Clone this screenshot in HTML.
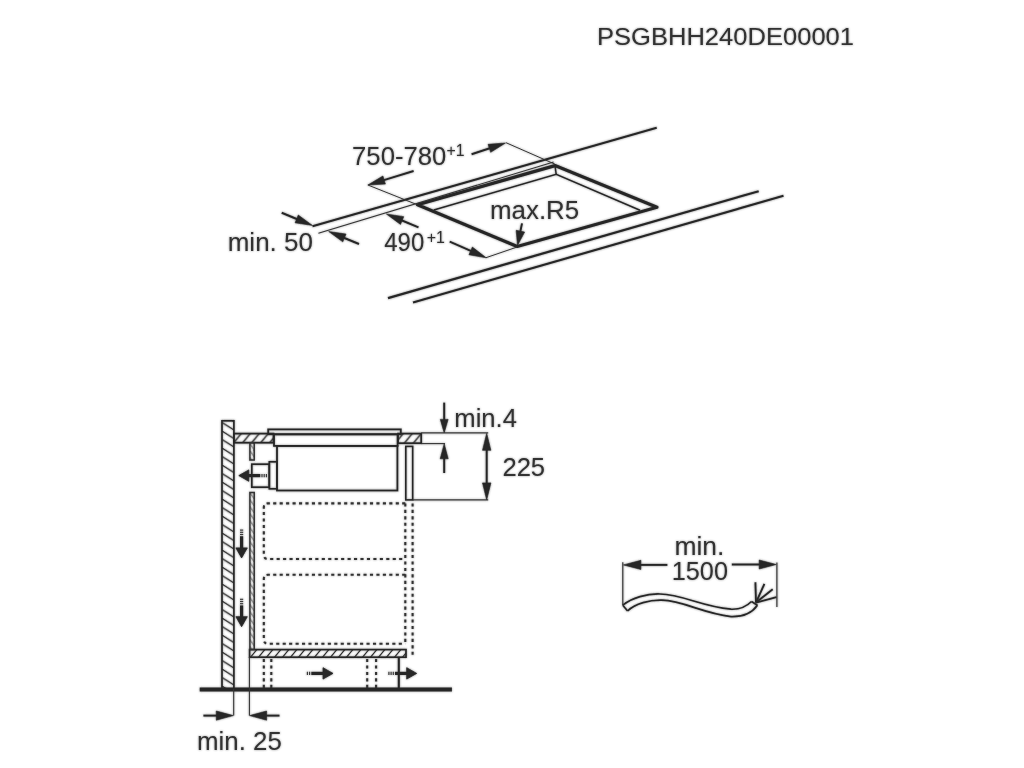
<!DOCTYPE html>
<html><head><meta charset="utf-8"><title>PSGBHH240DE00001</title>
<style>
html,body{margin:0;padding:0;background:#fff;}
body{width:1024px;height:768px;overflow:hidden;}
svg{display:block;}
svg text{font-family:"Liberation Sans",sans-serif;fill:#303030;}
</style></head><body>
<svg width="1024" height="768" viewBox="0 0 1024 768">
<defs><filter id="soft" x="0" y="0" width="1024" height="768" filterUnits="userSpaceOnUse"><feGaussianBlur in="SourceGraphic" stdDeviation="0.8" result="b"/><feComponentTransfer in="b" result="h"><feFuncA type="linear" slope="0.5" intercept="0"/></feComponentTransfer><feMerge><feMergeNode in="h"/><feMergeNode in="SourceGraphic"/></feMerge></filter></defs>
<rect width="1024" height="768" fill="#fff"/>
<g filter="url(#soft)">
<line x1="312.5" y1="226.3" x2="656.7" y2="127.8" stroke="#262626" stroke-width="2.2" />
<line x1="388" y1="298.1" x2="758.7" y2="191.2" stroke="#262626" stroke-width="2.2" />
<line x1="413" y1="302.5" x2="783.5" y2="195.7" stroke="#262626" stroke-width="2.2" />
<polygon points="417.5,204.8 555,165.6 657,207.3 517.2,246.5" fill="none" stroke="#262626" stroke-width="3.2" stroke-linejoin="round"/>
<polyline points="433.8,210 556.2,174.4 640,210.3" fill="none" stroke="#262626" stroke-width="1.5"/>
<line x1="555" y1="165.6" x2="556.2" y2="174.4" stroke="#262626" stroke-width="1.5" />
<line x1="471.6" y1="154.2" x2="491.26" y2="147.71" stroke="#262626" stroke-width="2.0" />
<polygon points="505.50,143.00 490.68,152.32 488.04,144.35" fill="#262626" stroke="#262626" stroke-width="0.6" stroke-linejoin="miter"/>
<line x1="413.6" y1="171.0" x2="382.24" y2="180.61" stroke="#262626" stroke-width="2.0" />
<polygon points="367.90,185.00 382.92,176.00 385.38,184.04" fill="#262626" stroke="#262626" stroke-width="0.6" stroke-linejoin="miter"/>
<line x1="418.5" y1="227.3" x2="400.26" y2="219.74" stroke="#262626" stroke-width="2.0" />
<polygon points="386.40,214.00 403.71,216.63 400.50,224.39" fill="#262626" stroke="#262626" stroke-width="0.6" stroke-linejoin="miter"/>
<line x1="449.7" y1="241.6" x2="472.49" y2="251.71" stroke="#262626" stroke-width="2.0" />
<polygon points="486.20,257.80 468.96,254.74 472.37,247.06" fill="#262626" stroke="#262626" stroke-width="0.6" stroke-linejoin="miter"/>
<line x1="281.7" y1="212.8" x2="298.52" y2="219.7" stroke="#262626" stroke-width="2.0" />
<polygon points="312.40,225.40 295.08,222.83 298.27,215.06" fill="#262626" stroke="#262626" stroke-width="0.6" stroke-linejoin="miter"/>
<line x1="359" y1="244" x2="342.57" y2="237.22" stroke="#262626" stroke-width="2.0" />
<polygon points="328.70,231.50 346.02,234.10 342.81,241.87" fill="#262626" stroke="#262626" stroke-width="0.6" stroke-linejoin="miter"/>
<line x1="522.0" y1="223.4" x2="520.0" y2="233.15" stroke="#262626" stroke-width="2.0" />
<polygon points="517.50,245.40 516.19,230.33 524.62,232.06" fill="#262626" stroke="#262626" stroke-width="0.6" stroke-linejoin="miter"/>
<text transform="translate(596.92 44.9) scale(1.0390 1)" font-size="24.6">PSGBHH240DE00001</text>
<text transform="translate(352.08 164.7) scale(1.0071 1)" font-size="25.5">750-780</text>
<text transform="translate(446.50 156.2) scale(0.9135 1)" font-size="17.3">+1</text>
<text transform="translate(227.68 251.1) scale(1.0205 1)" font-size="25.5">min. 50</text>
<text transform="translate(384.22 251.1) scale(0.9427 1)" font-size="25.5">490</text>
<text transform="translate(426.69 242.9) scale(0.9246 1)" font-size="17.3">+1</text>
<text transform="translate(489.99 218.7) scale(1.0162 1)" font-size="25.5">max.R5</text>
<defs>
<pattern id="hw" width="20" height="8.5" patternUnits="userSpaceOnUse" patternTransform="translate(222 422.5)">
<path d="M-2,-1.26 L22,13.86 M-2,-9.76 L22,5.36" stroke="#262626" stroke-width="1.15" fill="none"/></pattern>
<pattern id="hh" width="9" height="20" patternUnits="userSpaceOnUse" patternTransform="translate(233.5 433)">
<path d="M-1,11.2 L10,-2.2 M-10,11.2 L1,-2.2 M8,11.2 L19,-2.2" stroke="#262626" stroke-width="1.15" fill="none"/></pattern>
<pattern id="hb" width="8" height="20" patternUnits="userSpaceOnUse" patternTransform="translate(250 649)">
<path d="M-1,10 L9,-2 M-9,10 L1,-2 M7,10 L17,-2" stroke="#262626" stroke-width="1.15" fill="none"/></pattern>
<pattern id="hp" width="10" height="7" patternUnits="userSpaceOnUse" patternTransform="translate(249.4 492)">
<path d="M0,0 L5,7 M0,-7 L5,0" stroke="#262626" stroke-width="0.7" fill="none"/></pattern>
</defs>
<rect x="222" y="420.8" width="11.9" height="268" fill="none" stroke="#262626" stroke-width="1.7"/>
<rect x="233.9" y="433.6" width="39.6" height="9.1" fill="none" stroke="#262626" stroke-width="1.8"/>
<rect x="398" y="433.6" width="23.2" height="9.6" fill="none" stroke="#262626" stroke-width="1.8"/>
<rect x="268.2" y="429.4" width="132.6" height="4.9" fill="none" stroke="#262626" stroke-width="1.8"/>
<rect x="274" y="434.3" width="123.6" height="11.6" fill="none" stroke="#262626" stroke-width="1.8"/>
<rect x="277" y="445.9" width="120.4" height="44.6" fill="none" stroke="#262626" stroke-width="1.8"/>
<rect x="269.3" y="461.8" width="7.7" height="27" fill="none" stroke="#262626" stroke-width="1.7"/>
<rect x="251.8" y="464.2" width="17.5" height="23" fill="none" stroke="#262626" stroke-width="1.7"/>
<rect x="249.6" y="649.6" width="156.4" height="7.6" fill="none" stroke="#262626" stroke-width="1.7"/>
<rect x="405.8" y="446.4" width="6.9" height="53.5" fill="none" stroke="#262626" stroke-width="1.6"/>
<line x1="398.8" y1="657.2" x2="398.8" y2="688" stroke="#262626" stroke-width="2.1" />
<line x1="199.7" y1="689.5" x2="451.9" y2="689.5" stroke="#262626" stroke-width="4.2" />
<line x1="444.2" y1="402.6" x2="444.2" y2="421.4" stroke="#262626" stroke-width="2.0" />
<polygon points="444.20,432.90 440.30,419.40 448.10,419.40" fill="#262626" stroke="#262626" stroke-width="0.6" stroke-linejoin="miter"/>
<line x1="444.2" y1="473" x2="444.2" y2="456.8" stroke="#262626" stroke-width="2.0" />
<polygon points="444.20,443.80 448.20,458.80 440.20,458.80" fill="#262626" stroke="#262626" stroke-width="0.6" stroke-linejoin="miter"/>
<line x1="486.7" y1="466" x2="486.7" y2="448.3" stroke="#262626" stroke-width="2.0" />
<polygon points="486.70,433.30 490.90,450.30 482.50,450.30" fill="#262626" stroke="#262626" stroke-width="0.6" stroke-linejoin="miter"/>
<line x1="486.7" y1="466" x2="486.7" y2="484.9" stroke="#262626" stroke-width="2.0" />
<polygon points="486.70,499.90 482.50,482.90 490.90,482.90" fill="#262626" stroke="#262626" stroke-width="0.6" stroke-linejoin="miter"/>
<line x1="203.4" y1="715.6" x2="218.3" y2="715.6" stroke="#262626" stroke-width="2.0" />
<polygon points="233.30,715.60 216.30,720.20 216.30,711.00" fill="#262626" stroke="#262626" stroke-width="0.6" stroke-linejoin="miter"/>
<line x1="279.5" y1="715.6" x2="264.6" y2="715.6" stroke="#262626" stroke-width="2.0" />
<polygon points="249.60,715.60 266.60,711.00 266.60,720.20" fill="#262626" stroke="#262626" stroke-width="0.6" stroke-linejoin="miter"/>
<polygon points="238.80,475.60 248.80,469.90 248.80,481.30" fill="#262626" stroke="#262626" stroke-width="0.8" stroke-linejoin="miter"/>
<line x1="247.8" y1="475.6" x2="260.3" y2="475.6" stroke="#262626" stroke-width="3.2" />
<polygon points="241.60,557.90 235.90,547.90 247.30,547.90" fill="#262626" stroke="#262626" stroke-width="0.8" stroke-linejoin="miter"/>
<line x1="241.6" y1="548.9" x2="241.6" y2="536.2" stroke="#262626" stroke-width="3.2" />
<polygon points="241.60,626.70 235.90,616.70 247.30,616.70" fill="#262626" stroke="#262626" stroke-width="0.8" stroke-linejoin="miter"/>
<line x1="241.6" y1="617.7" x2="241.6" y2="605.4" stroke="#262626" stroke-width="3.2" />
<polygon points="333.00,673.40 323.00,679.10 323.00,667.70" fill="#262626" stroke="#262626" stroke-width="0.8" stroke-linejoin="miter"/>
<line x1="324" y1="673.4" x2="311.3" y2="673.4" stroke="#262626" stroke-width="3.2" />
<polygon points="416.70,673.40 406.70,679.10 406.70,667.70" fill="#262626" stroke="#262626" stroke-width="0.8" stroke-linejoin="miter"/>
<line x1="407.7" y1="673.4" x2="395.0" y2="673.4" stroke="#262626" stroke-width="3.2" />
<text transform="translate(454.31 427.2) scale(1.0044 1)" font-size="25.5">min.4</text>
<text transform="translate(502.38 475.8) scale(1.0053 1)" font-size="25.5">225</text>
<text transform="translate(197.04 749.5) scale(1.0145 1)" font-size="25.5">min. 25</text>
<line x1="667.4" y1="564.9" x2="638.9" y2="564.9" stroke="#262626" stroke-width="2.0" />
<polygon points="623.40,564.90 640.90,560.30 640.90,569.50" fill="#262626" stroke="#262626" stroke-width="0.6" stroke-linejoin="miter"/>
<line x1="731.8" y1="564.5" x2="761.2" y2="564.5" stroke="#262626" stroke-width="2.0" />
<polygon points="776.20,564.50 759.20,569.00 759.20,560.00" fill="#262626" stroke="#262626" stroke-width="0.6" stroke-linejoin="miter"/>
<path d="M622.8,605.2 C632,597.5 647,593.6 660,594 C683,594.6 700,606 731,609.2 C741,609.7 747,606 751.5,601.5" fill="none" stroke="#262626" stroke-width="1.7"/>
<path d="M627.6,611 C635,603.5 650,599.8 662,600.2 C684,601 702,613 731,616.6 C745,617 753,611.5 757.4,605.2" fill="none" stroke="#262626" stroke-width="1.7"/>
<line x1="622.8" y1="605.2" x2="627.6" y2="611" stroke="#262626" stroke-width="1.7" />
<line x1="751.5" y1="601.5" x2="757.4" y2="605.2" stroke="#262626" stroke-width="1.7" />
<line x1="756" y1="602.6" x2="755.4" y2="582.3" stroke="#262626" stroke-width="1.9" />
<line x1="756" y1="602.6" x2="764.4" y2="583.9" stroke="#262626" stroke-width="1.9" />
<line x1="756" y1="602.6" x2="772.7" y2="589.3" stroke="#262626" stroke-width="1.9" />
<line x1="756" y1="602.6" x2="776.5" y2="597.2" stroke="#262626" stroke-width="1.9" />
<text transform="translate(674.45 554.9) scale(1.0380 1)" font-size="25.5">min.</text>
<text transform="translate(671.68 580) scale(0.9923 1)" font-size="25.5">1500</text>
<line x1="318.4" y1="233.3" x2="553.6" y2="162.0" stroke="#333" stroke-width="1.15"/>
<line x1="367.9" y1="185" x2="417.5" y2="204.8" stroke="#333" stroke-width="1.0"/>
<line x1="506" y1="142.7" x2="555" y2="164.2" stroke="#333" stroke-width="1.0"/>
<line x1="486" y1="257.7" x2="517.2" y2="247" stroke="#333" stroke-width="1.0"/>
<rect x="222" y="420.8" width="11.9" height="268" fill="url(#hw)"/>
<rect x="233.9" y="433.6" width="39.6" height="9.1" fill="url(#hh)"/>
<rect x="398" y="433.6" width="23.2" height="9.6" fill="url(#hh)"/>
<rect x="249.9" y="442.7" width="4.3" height="17.3" fill="url(#hp)" stroke="#303030" stroke-width="1.5"/>
<rect x="249.9" y="492.5" width="4.3" height="157" fill="url(#hp)" stroke="#303030" stroke-width="1.5"/>
<rect x="249.6" y="649.6" width="156.4" height="7.6" fill="url(#hb)"/>
<path d="M405.3,503.4 H268 Q263.8,503.4 263.8,507.6 V554.8 Q263.8,559 268,559 H405.3" fill="none" stroke="#303030" stroke-width="2.1" stroke-dasharray="3.1 3.35"/>
<path d="M405.3,574.8 H268 Q263.8,574.8 263.8,579 V639.5 Q263.8,643.7 268,643.7 H405.3" fill="none" stroke="#303030" stroke-width="2.1" stroke-dasharray="3.1 3.35"/>
<path d="M405.3,503.4 V644" fill="none" stroke="#303030" stroke-width="2.1" stroke-dasharray="3.1 3.35"/>
<path d="M412.6,503.4 V657.5" fill="none" stroke="#303030" stroke-width="2.1" stroke-dasharray="3.1 3.35"/>
<path d="M263.8,659 V688" fill="none" stroke="#303030" stroke-width="2.1" stroke-dasharray="3.1 3.35"/>
<path d="M271.3,659 V688" fill="none" stroke="#303030" stroke-width="2.1" stroke-dasharray="3.1 3.35"/>
<path d="M367.2,659 V688" fill="none" stroke="#303030" stroke-width="2.1" stroke-dasharray="3.1 3.35"/>
<path d="M376.1,659 V688" fill="none" stroke="#303030" stroke-width="2.1" stroke-dasharray="3.1 3.35"/>
<line x1="421.2" y1="432.9" x2="488.2" y2="432.9" stroke="#333" stroke-width="1.1"/>
<line x1="421.2" y1="443.6" x2="445" y2="443.6" stroke="#333" stroke-width="1.1"/>
<line x1="412.7" y1="499.9" x2="488.2" y2="499.9" stroke="#333" stroke-width="1.1"/>
<line x1="233.7" y1="689" x2="233.7" y2="715.6" stroke="#333" stroke-width="1.1"/>
<line x1="249.4" y1="657" x2="249.4" y2="715.6" stroke="#333" stroke-width="1.1"/>
<line x1="262.60" y1="475.60" x2="261.40" y2="475.60" stroke="#3a3a3a" stroke-width="3.2"/>
<line x1="264.80" y1="475.60" x2="263.60" y2="475.60" stroke="#3a3a3a" stroke-width="3.2"/>
<line x1="267.00" y1="475.60" x2="265.80" y2="475.60" stroke="#3a3a3a" stroke-width="3.2"/>
<line x1="241.60" y1="533.90" x2="241.60" y2="535.10" stroke="#3a3a3a" stroke-width="3.2"/>
<line x1="241.60" y1="531.70" x2="241.60" y2="532.90" stroke="#3a3a3a" stroke-width="3.2"/>
<line x1="241.60" y1="529.50" x2="241.60" y2="530.70" stroke="#3a3a3a" stroke-width="3.2"/>
<line x1="241.60" y1="603.10" x2="241.60" y2="604.30" stroke="#3a3a3a" stroke-width="3.2"/>
<line x1="241.60" y1="600.90" x2="241.60" y2="602.10" stroke="#3a3a3a" stroke-width="3.2"/>
<line x1="241.60" y1="598.70" x2="241.60" y2="599.90" stroke="#3a3a3a" stroke-width="3.2"/>
<line x1="309.00" y1="673.40" x2="310.20" y2="673.40" stroke="#3a3a3a" stroke-width="3.2"/>
<line x1="306.80" y1="673.40" x2="308.00" y2="673.40" stroke="#3a3a3a" stroke-width="3.2"/>
<line x1="392.70" y1="673.40" x2="393.90" y2="673.40" stroke="#3a3a3a" stroke-width="3.2"/>
<line x1="390.50" y1="673.40" x2="391.70" y2="673.40" stroke="#3a3a3a" stroke-width="3.2"/>
<line x1="388.30" y1="673.40" x2="389.50" y2="673.40" stroke="#3a3a3a" stroke-width="3.2"/>
<line x1="622.8" y1="562.3" x2="622.8" y2="605.3" stroke="#333" stroke-width="1.2"/>
<line x1="776.9" y1="562.6" x2="776.9" y2="607" stroke="#333" stroke-width="1.2"/>
</g>
</svg>
</body></html>
